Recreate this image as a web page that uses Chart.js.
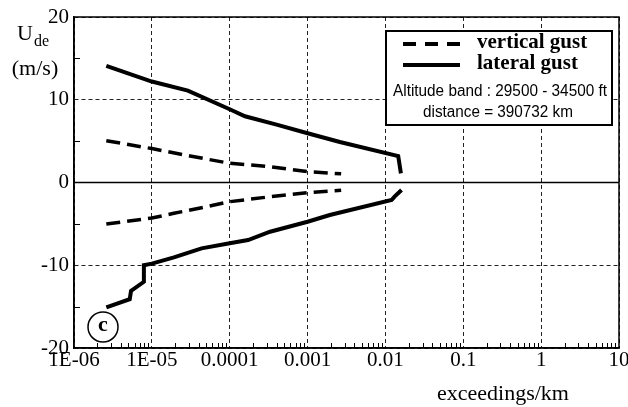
<!DOCTYPE html>
<html>
<head>
<meta charset="utf-8">
<script src="https://cdn.jsdelivr.net/npm/chart.js@4/dist/chart.umd.min.js"></script>
<style>
  body { margin: 0; background: #fff; }
  #wrap { width: 628px; height: 407px; }
</style>
</head>
<body>
<div id="wrap"><canvas id="gust"></canvas></div>
<script>
// exceedings/km (x) vs U_de in m/s (y)
const latUpX = [2.6e-6, 1e-5, 2.9e-5, 1e-4, 1.57e-4, 4e-4, 1e-3, 2.6e-3, 0.0146, 0.0158];
const latUpY = [14.1, 12.2, 11.1, 8.85, 8.0, 7.0, 5.95, 4.9, 3.2, 1.1];
const latLowX = [2.6e-6, 5.2e-6, 5.4e-6, 7.9e-6, 7.9e-6, 1e-5, 1.92e-5, 4.35e-5, 1e-4, 1.72e-4, 3.3e-4, 1e-3, 1.93e-3, 0.012, 0.0131, 0.0161];
const latLowY = [-15.1, -14.1, -13.1, -12.0, -10.0, -9.8, -9.05, -7.96, -7.35, -6.95, -5.95, -4.74, -3.93, -2.12, -1.71, -0.9];
const vertUpX = [2.6e-6, 1e-5, 3.1e-5, 1e-4, 3.3e-4, 1e-3, 2.7e-3];
const vertUpY = [5.05, 4.1, 3.2, 2.32, 1.91, 1.31, 1.05];
const vertLowX = [2.6e-6, 1e-5, 1.92e-5, 4.35e-5, 1e-4, 3.3e-4, 1e-3, 2.7e-3];
const vertLowY = [-5.02, -4.3, -3.72, -3.05, -2.32, -1.72, -1.23, -0.95];

const xTicks = [1e-6, 1e-5, 1e-4, 1e-3, 1e-2, 1e-1, 1, 10];
const xTickLabels = ["1E-06", "1E-05", "0.0001", "0.001", "0.01", "0.1", "1", "10"];
const yTicks = [-20, -10, 0, 10, 20];

const pts = (xs, ys) => xs.map((x, i) => ({x: x, y: ys[i]}));

function line(data, dashed) {
    return {
        data: data,
        borderColor: "#000",
        borderWidth: dashed ? 3.5 : 4,
        borderDash: dashed ? [14, 7] : [],
        pointRadius: 0,
        tension: 0,
        fill: false,
    };
}

// extra drawing: frame, zero line, minor ticks, legend box, labels
const decorations = {
    id: "decorations",
    beforeDatasetsDraw: (chart) => {
        const {ctx, chartArea: {left, right}, scales: {y}} = chart;
        ctx.save();
        ctx.strokeStyle = "#000";
        ctx.lineWidth = 1.3;
        const y0 = y.getPixelForValue(0);
        ctx.beginPath();
        ctx.moveTo(left, y0);
        ctx.lineTo(right, y0);
        ctx.stroke();
        ctx.restore();
    },
    afterDraw: (chart) => {
        const {ctx, chartArea: {left, right, top, bottom}, scales: {x, y}} = chart;
        ctx.save();
        ctx.strokeStyle = "#000";
        ctx.lineWidth = 1.5;
        ctx.strokeRect(left, top, right - left, bottom - top);

        // minor ticks, drawn inward
        ctx.lineWidth = 1;
        ctx.beginPath();
        for (let d = 1e-6; d < 5; d *= 10) {
            for (let m = 2; m <= 9; m++) {
                const px = Math.round(x.getPixelForValue(m * d)) + 0.5;
                ctx.moveTo(px, bottom);
                ctx.lineTo(px, bottom - 5);
            }
        }
        [-15, -5, 5, 15].forEach(v => {
            const py = Math.round(y.getPixelForValue(v)) + 0.5;
            ctx.moveTo(left, py);
            ctx.lineTo(left + 6, py);
        });
        ctx.stroke();

        // legend box
        ctx.fillStyle = "#fff";
        ctx.fillRect(386, 31, 226, 94);
        ctx.lineWidth = 2;
        ctx.strokeRect(386, 31, 226, 94);
        ctx.lineWidth = 4;
        ctx.setLineDash([13, 9]);
        ctx.beginPath();
        ctx.moveTo(403, 44);
        ctx.lineTo(460, 44);
        ctx.stroke();
        ctx.setLineDash([]);
        ctx.beginPath();
        ctx.moveTo(403, 65);
        ctx.lineTo(460, 65);
        ctx.stroke();

        ctx.fillStyle = "#000";
        ctx.textBaseline = "middle";
        ctx.textAlign = "left";
        ctx.font = "bold 21px 'Liberation Serif'";
        ctx.fillText("vertical gust", 477, 43);
        ctx.fillText("lateral gust", 477, 64);
        ctx.textAlign = "center";
        ctx.font = "16px 'Liberation Sans'";
        ctx.fillText("Altitude band : 29500 - 34500 ft", 500, 92, 214);
        ctx.fillText("distance = 390732 km", 498, 113, 150);

        // axis titles
        ctx.font = "22px 'Liberation Serif'";
        ctx.fillText("exceedings/km", 503, 394);
        ctx.fillText("(m/s)", 35, 69);
        ctx.textAlign = "left";
        ctx.textBaseline = "alphabetic";
        ctx.font = "22px 'Liberation Serif'";
        ctx.fillText("U", 17, 40);
        ctx.font = "16px 'Liberation Serif'";
        ctx.fillText("de", 34, 46);

        // panel marker
        ctx.lineWidth = 1.5;
        ctx.beginPath();
        ctx.arc(103, 327, 15, 0, Math.PI * 2);
        ctx.stroke();
        ctx.textAlign = "center";
        ctx.textBaseline = "middle";
        ctx.font = "bold 22px 'Liberation Serif'";
        ctx.fillText("c", 103, 325);
        ctx.restore();
    },
};

new Chart(document.getElementById("gust").getContext("2d"), {
    type: "line",
    data: {
        datasets: [
            line(pts(vertUpX, vertUpY), true),
            line(pts(vertLowX, vertLowY), true),
            line(pts(latUpX, latUpY), false),
            line(pts(latLowX, latLowY), false),
        ],
    },
    options: {
        responsive: true,
        maintainAspectRatio: false,
        animation: false,
        devicePixelRatio: 1,
        layout: {padding: {top: 17, right: 9, left: 0, bottom: 0}},
        plugins: {legend: {display: false}, tooltip: {enabled: false}},
        scales: {
            x: {
                type: "logarithmic",
                min: 1e-6,
                max: 10,
                afterBuildTicks: (scale) => {
                    scale.ticks = xTicks.map(v => ({value: v, major: true}));
                },
                afterFit: (scale) => {
                    scale.height = 59;
                    scale.paddingLeft = 0;
                    scale.paddingRight = 0;
                },
                ticks: {
                    autoSkip: false,
                    maxRotation: 0,
                    padding: 0,
                    color: "#000",
                    font: {family: "Liberation Serif", size: 21},
                    callback: (v, i) => xTickLabels[i],
                },
                grid: {color: "#222", lineWidth: 1, drawTicks: false},
                border: {color: "#000", width: 1.5, dash: [4, 3]},
            },
            y: {
                min: -20,
                max: 20,
                afterBuildTicks: (scale) => {
                    scale.ticks = yTicks.map(v => ({value: v}));
                },
                afterFit: (scale) => {
                    scale.width = 74;
                    scale.paddingTop = 0;
                    scale.paddingBottom = 0;
                },
                ticks: {
                    padding: 5,
                    color: "#000",
                    font: {family: "Liberation Serif", size: 21},
                },
                grid: {color: "#222", lineWidth: 1, drawTicks: false},
                border: {color: "#000", width: 1.5, dash: [4, 3]},
            },
        },
    },
    plugins: [decorations],
});
</script>
</body>
</html>
